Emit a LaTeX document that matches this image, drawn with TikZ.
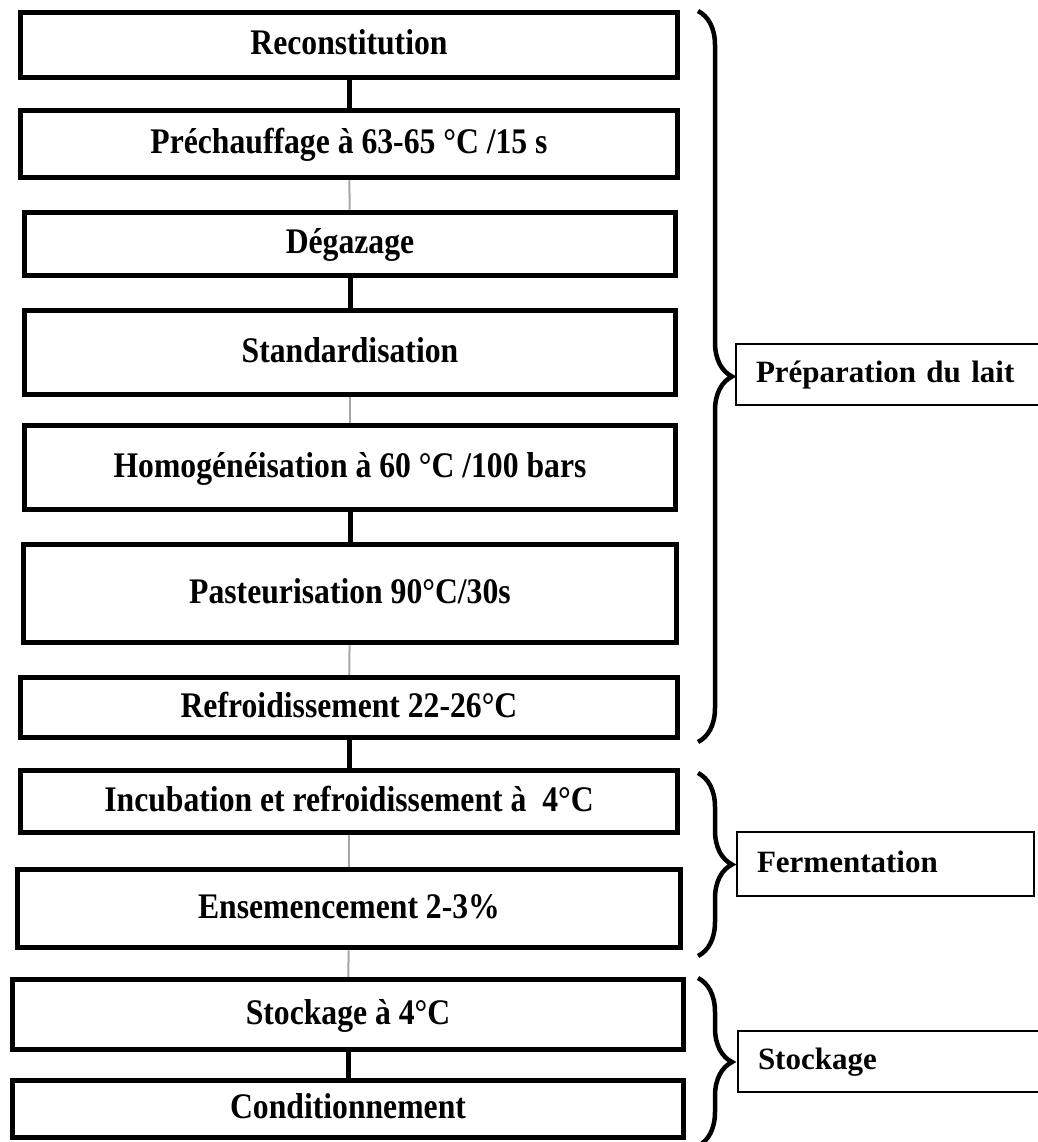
\documentclass[tikz,border=0pt]{standalone}
\usepackage{fontspec}
\setmainfont{Liberation Serif}
\newfontfamily\stepfont[FakeStretch=0.88]{Liberation Serif}
\usetikzlibrary{decorations.pathreplacing}

\begin{document}
\begin{tikzpicture}[x=1pt,y=-1pt,
    stepbox/.style={draw,line width=5.5pt,minimum width=657pt,inner sep=0pt,
      text height=24pt,text depth=5pt,
      font=\stepfont\bfseries\fontsize{36}{40}\selectfont},
    phasebox/.style={draw,line width=2pt,anchor=west,text width=265pt,
      inner xsep=20pt,inner ysep=0pt,align=left,
      text height=21pt,text depth=5pt,
      font=\bfseries\fontsize{31}{36}\selectfont},
    link/.style={line width=5pt},
    faintlink/.style={line width=2pt,black!35},
    phasebrace/.style={decorate,decoration={brace,amplitude=34pt},line width=4.5pt}]
  \useasboundingbox (0,0) rectangle (1037,1142);

  % process steps
  \node[stepbox,minimum height=65pt] (recon) at (349,45) {Reconstitution};
  \node[stepbox,minimum height=67pt] (prech) at (349,144) {Préchauffage à 63-65 °C /15 s};
  \node[stepbox,minimum height=63pt,minimum width=651pt] (degaz) at (350,244) {Dégazage};
  \node[stepbox,minimum height=84pt,minimum width=651pt] (stand) at (350,352.5) {Standardisation};
  \node[stepbox,minimum height=84pt,minimum width=651pt] (homog) at (350,467.5) {Homogénéisation à 60 °C /100 bars};
  \node[stepbox,minimum height=98pt,minimum width=653pt] (paste) at (350,593.5) {Pasteurisation 90°C/30s};
  \node[stepbox,minimum height=60pt] (refro) at (349,707.5) {Refroidissement 22-26°C};
  \node[stepbox,minimum height=62pt] (incub) at (349,801.5) {Incubation et refroidissement à~~4°C};
  \node[stepbox,minimum height=78pt,minimum width=663pt] (ensem) at (349,908.5) {Ensemencement 2-3\%};
  \node[stepbox,minimum height=70pt,minimum width=671pt] (stock) at (348,1014.5) {Stockage à 4°C};
  \node[stepbox,minimum height=57pt,minimum width=671pt] (condi) at (348,1109) {Conditionnement};

  % connectors
  \draw[link] (recon) -- (prech);
  \draw[faintlink] (prech) -- (degaz);
  \draw[link] (degaz) -- (stand);
  \draw[faintlink] (stand) -- (homog);
  \draw[link] (homog) -- (paste);
  \draw[faintlink] (paste) -- (refro);
  \draw[link] (refro) -- (incub);
  \draw[faintlink] (incub) -- (ensem);
  \draw[faintlink] (ensem) -- (stock);
  \draw[link] (stock) -- (condi);

  % phases
  \coordinate (prepTop) at (698,11);
  \coordinate (prepBot) at (698,742);
  \coordinate (fermTop) at (698,773);
  \coordinate (fermBot) at (698,956);
  \coordinate (stkTop) at (698,978);
  \coordinate (stkBot) at (698,1146);
  \draw[phasebrace] (prepTop) -- (prepBot);
  \draw[phasebrace] (fermTop) -- (fermBot);
  \draw[phasebrace] (stkTop) -- (stkBot);

  \node[phasebox,minimum height=61pt] (prep) at (735,374) {Préparation du lait};
  \node[phasebox,minimum height=64pt,text width=257pt] (ferm) at (736,864) {Fermentation};
  \node[phasebox,minimum height=61pt] (stkg) at (737,1061) {Stockage};
\end{tikzpicture}
\end{document}
